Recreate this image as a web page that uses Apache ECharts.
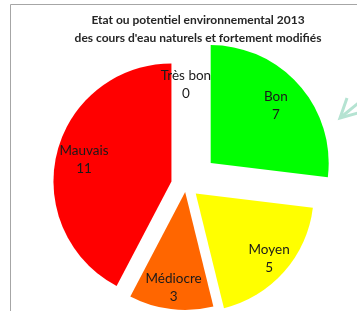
<!DOCTYPE html>
<html>
<head>
<meta charset="utf-8">
<script src="https://cdn.jsdelivr.net/npm/echarts@6/dist/echarts.min.js"></script>
<style>
  html, body { margin: 0; padding: 0; background: #fff; }
  #chart { width: 357px; height: 311px; }
</style>
</head>
<body>
<div id="chart"></div>
<script>
// data
const categories = ['Très bon', 'Bon', 'Moyen', 'Médiocre', 'Mauvais']
const values = [0, 7, 5, 3, 11]

// styling per slice (Excel-like exploded pie)
const colors = ['#0070c0', '#00ff00', '#ffff00', '#ff6600', '#ff0000']
const explode = [0, 33, 13, 7, 15]
const labelDist = [97, 84, 95, 93, 87]

const center = [186, 185]
const radius = 118
const font = 'Lato'

// one series per slice, so each one can have its own explosion offset
let series = []
categories.forEach((cat, i) => {
  series.push({
    type: 'pie',
    center: center,
    radius: [0, radius],
    startAngle: 90,
    clockwise: true,
    selectedMode: 'multiple',
    selectedOffset: explode[i],
    silent: true,
    animation: false,
    label: { show: false },
    labelLine: { show: false },
    data: categories.map((name, j) => ({
      name: name,
      value: values[j],
      selected: j === i,
      itemStyle: { color: j === i ? colors[j] : 'transparent', borderWidth: 0 },
    })),
  })
  // invisible, bigger pie only used to place the label at the right distance
  series.push({
    type: 'pie',
    center: center,
    radius: [0, labelDist[i] * 2],
    startAngle: 90,
    clockwise: true,
    selectedMode: 'multiple',
    selectedOffset: explode[i],
    silent: true,
    animation: false,
    z: 5,
    labelLine: { show: false },
    data: categories.map((name, j) => ({
      name: name,
      value: values[j],
      selected: j === i,
      itemStyle: { color: 'transparent', borderWidth: 0 },
      label: {
        show: j === i,
        position: 'inside',
        formatter: '{b}\n{c}',
        color: '#1a1a1a',
        fontFamily: font,
        fontSize: 13.5,
        lineHeight: 18,
      },
    })),
  })
})

const chart = echarts.init(document.getElementById('chart'))
chart.setOption({
  animation: false,
  graphic: [
    {
      type: 'rect',
      shape: { x: 10.5, y: 4.5, width: 400, height: 400 },
      style: { fill: 'none', stroke: '#a6a6a6', lineWidth: 1 },
      silent: true,
    },
    {
      type: 'text',
      x: 198,
      y: 11,
      style: {
        text: 'Etat ou potentiel environnemental 2013\ndes cours d\'eau naturels et fortement modifiés',
        textAlign: 'center',
        fontFamily: font,
        fontWeight: 'bold',
        fontSize: 12,
        lineHeight: 18,
        fill: '#262626',
      },
    },
    {
      type: 'polyline',
      shape: { points: [[347, 98], [340, 118], [358, 113]] },
      style: { fill: 'none', stroke: '#b5e3d2', lineWidth: 3 },
      silent: true,
    },
    {
      type: 'line',
      shape: { x1: 340, y1: 118, x2: 362, y2: 100 },
      style: { stroke: '#b5e3d2', lineWidth: 3 },
      silent: true,
    },
  ],
  series: series,
})
</script>
</body>
</html>
